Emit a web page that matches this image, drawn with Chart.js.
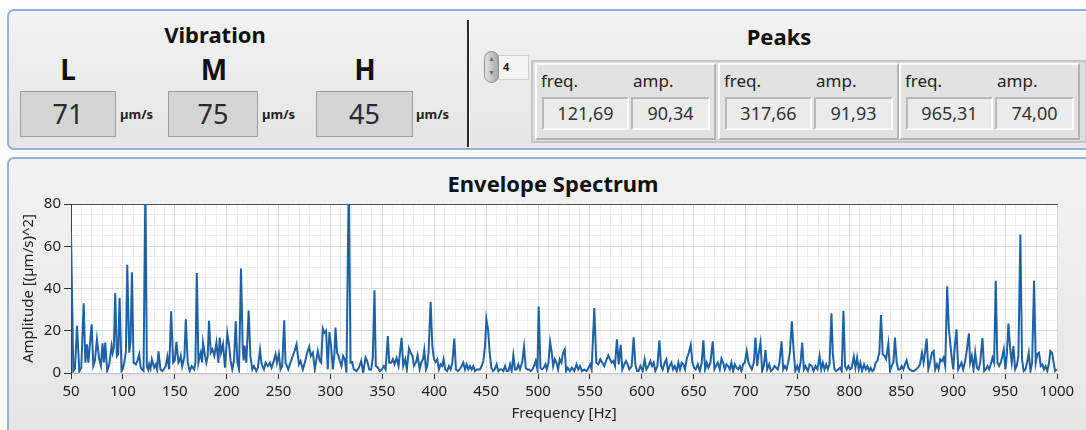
<!DOCTYPE html>
<html>
<head>
<meta charset="utf-8">
<script src="https://cdn.jsdelivr.net/npm/chart.js@4.4.0/dist/chart.umd.min.js"></script>
<style>
body{margin:0;width:1086px;height:430px;overflow:hidden;background:#fafafa;font-family:"Noto Sans",sans-serif;position:relative}
.panel{position:absolute;border:2px solid #8fb3d8;border-radius:7px;background:linear-gradient(#f2f2f2,#e5e5e5);box-sizing:border-box}
.t{position:absolute;white-space:nowrap;text-align:center;color:#222}
.hd{font-weight:bold;color:#111}
.box{position:absolute;box-sizing:border-box;background:#d4d4d4;border:1px solid #9c9c9c;text-align:center;color:#2a2a2a;font-size:27px;line-height:44px}
.unit{position:absolute;font-size:13px;font-weight:bold;color:#222;line-height:16px}
.arr{position:absolute;box-sizing:border-box;background:#dedede;border:2px solid #c6c6c6}
.el{position:absolute;box-sizing:border-box;background:#e2e2e2;border:2px solid;border-color:#fbfbfb #b2b2b2 #b2b2b2 #fbfbfb}
.lbl{position:absolute;font-size:17px;color:#222;line-height:20px}
.val{position:absolute;box-sizing:border-box;background:#ebebeb;border:2px solid;border-color:#b8b8b8 #fbfbfb #fbfbfb #b8b8b8;text-align:center;font-size:18px;color:#333;line-height:29px}
</style>
</head>
<body>
<div class="panel" style="left:7px;top:9px;width:1100px;height:141px"></div>
<div class="panel" style="left:7px;top:157px;width:1100px;height:300px"></div>
<div style="position:absolute;left:467px;top:20px;width:2px;height:127px;background:#2b2b2b;border-right:1px solid #fff"></div>
<div id="top"></div>
<div class="t hd" style="left:353px;top:169px;width:400px;font-size:22px;line-height:28px">Envelope Spectrum</div>
<canvas id="spec" width="1086" height="238" style="position:absolute;left:0;top:192px"></canvas>
<script>
function byId(id){return document.getElementById(id);}
function put(cls, css, text){
  const d = document.createElement("div");
  d.className = cls; d.style.cssText = css;
  if (text != null) d.textContent = text;
  byId("top").appendChild(d); return d;
}

// readings shown on the panel
const VIB_LABELS = ["L", "M", "H"];
const VIB_VALUES = [71, 75, 45];
const VIB_UNIT = "µm/s";
const PEAK_FREQ = ["121,69", "317,66", "965,31"];
const PEAK_AMP = ["90,34", "91,93", "74,00"];
const PEAK_COUNT = 4;

// axis ranges and ticks
const X_RANGE = [50, 1000];
const Y_RANGE = [0, 80];
const X_STEP = 50, Y_STEP = 20, X_MINOR = 10, Y_MINOR = 5;

// envelope spectrum (Hz / (µm/s)^2)
const FREQ_HZ = [
  50.0,52.2,53.8,55.8,58.0,59.9,62.2,63.8,65.4,66.7,69.9,71.5,73.1,75.0,77.2,78.8,80.4,81.7,83.0,84.9,
  86.9,89.1,90.1,91.3,92.6,94.2,95.5,96.8,98.7,100.0,101.3,102.9,104.2,106.1,107.4,108.7,110.3,112.5,114.1,115.7,
  117.0,118.3,119.9,121.69,123.1,124.4,125.3,126.6,127.9,130.1,131.7,133.0,134.3,136.2,138.1,139.7,141.3,142.9,144.6,146.5,
  148.4,150.0,151.6,153.5,154.8,155.8,157.1,158.0,159.3,160.6,162.5,164.4,166.3,168.6,169.9,171.2,172.8,173.7,175.0,176.3,
  177.2,179.2,180.4,181.7,183.0,184.6,186.2,188.1,190.1,192.0,193.3,194.6,196.5,198.4,200.6,202.2,203.8,205.4,207.1,208.7,
  210.3,211.9,213.8,215.4,216.3,217.3,218.9,221.2,222.8,224.7,226.3,228.5,230.1,232.1,233.7,235.9,237.5,239.7,241.7,243.3,
  244.9,247.1,248.4,250.3,251.9,253.5,255.4,256.7,259.3,261.5,263.1,265.4,267.3,269.6,271.2,273.4,275.3,277.2,279.5,281.1,
  283.0,284.9,287.8,289.7,291.0,292.6,294.2,295.8,297.4,299.0,300.6,302.3,303.9,304.8,306.4,307.7,309.0,310.6,312.2,313.8,
  315.4,317.66,319.3,320.9,322.5,325.1,327.3,329.6,331.5,333.8,335.4,337.3,339.2,340.8,342.4,343.7,345.7,347.6,349.5,351.4,
  353.1,355.3,356.6,358.5,360.1,361.7,363.7,365.6,368.5,370.1,372.0,373.6,375.6,377.2,379.1,380.4,382.3,383.9,385.9,387.5,
  389.1,390.4,392.0,393.2,394.5,396.5,398.1,399.7,401.3,402.9,404.5,406.1,407.7,409.0,410.6,412.5,414.1,415.8,417.4,419.3,
  420.9,422.8,424.4,426.4,428.0,429.6,431.2,432.8,434.4,436.0,437.6,439.2,440.8,442.4,444.1,445.7,447.3,448.9,450.2,451.8,
  453.4,455.0,456.6,458.2,460.1,461.7,463.3,465.0,466.6,468.2,469.8,471.4,473.0,474.6,476.2,477.8,479.4,481.0,482.6,484.6,
  486.5,488.1,489.7,491.3,492.9,494.5,496.1,497.7,499.4,500.6,502.3,503.9,505.5,507.1,508.4,510.0,511.6,513.2,514.5,516.1,
  517.7,519.3,520.9,522.5,524.1,525.7,527.0,528.5,530.7,532.6,534.9,537.1,538.7,540.4,542.3,544.5,546.8,548.7,550.3,551.6,
  554.2,556.1,558.0,560.0,561.9,563.8,566.1,567.7,569.3,570.9,572.5,574.1,576.0,577.7,579.6,581.2,583.1,584.7,586.3,587.9,
  590.2,592.1,593.7,595.3,596.9,598.6,600.8,602.7,604.3,606.3,608.2,609.8,611.4,613.0,615.0,616.9,618.5,620.1,622.0,623.6,
  625.2,626.8,628.5,630.1,631.7,633.6,635.2,636.8,638.4,640.0,641.6,643.2,645.2,647.1,648.7,650.3,651.9,653.9,655.8,657.7,
  659.3,660.9,662.5,664.1,666.1,668.3,669.9,671.5,673.2,675.1,676.7,678.3,679.9,681.5,683.1,684.7,686.3,687.9,689.5,691.2,
  692.8,694.4,696.0,697.6,699.2,701.1,702.7,704.3,705.9,707.9,709.5,711.1,712.7,714.3,715.9,717.5,719.1,720.8,722.7,724.3,
  726.2,727.8,729.4,731.0,732.6,734.6,736.2,737.8,739.4,741.0,742.6,744.5,746.2,747.8,749.7,751.3,752.9,754.5,756.1,757.7,
  760.0,761.6,763.8,765.4,767.3,769.2,771.2,772.8,774.4,776.0,777.6,779.2,780.8,782.7,784.0,785.6,787.2,789.1,791.0,792.6,
  794.2,795.8,797.4,799.0,800.6,802.2,804.2,805.8,807.4,809.0,810.6,812.2,814.1,815.7,817.3,818.9,820.5,822.1,823.7,825.3,
  826.9,828.8,830.4,832.1,833.7,835.3,837.5,839.1,840.7,842.3,843.9,845.5,847.1,848.7,850.3,851.9,853.5,855.1,856.7,858.3,
  860.3,862.2,864.1,866.0,868.0,869.9,871.5,872.8,874.4,876.0,877.6,879.5,881.1,882.7,884.3,885.9,887.5,889.1,890.7,892.3,
  894.2,895.8,897.1,898.4,900.0,901.6,903.2,904.8,906.4,908.0,909.6,911.2,912.8,915.1,916.3,917.9,919.6,921.2,922.8,924.4,
  926.0,928.2,929.8,931.4,933.0,934.6,936.2,937.8,939.4,941.0,942.6,944.2,945.8,947.4,948.7,950.3,951.6,953.2,954.8,956.4,
  958.0,959.6,961.2,962.8,964.7,966.3,967.9,969.6,971.2,972.8,974.4,976.0,977.9,979.5,981.1,982.7,984.3,985.9,987.5,989.1,
  990.7,992.3,993.6,995.2,996.8,998.1,1000.0
];
const AMP = [
  66.5,0.9,2.0,22.3,0.8,2.5,33.0,4.9,13.6,4.9,23.0,3.5,6.0,16.0,6.5,3.5,14.0,5.0,14.4,1.0,
  4.0,12.8,9.5,12.0,37.8,8.0,9.0,35.6,1.0,2.0,4.9,10.0,51.2,9.6,15.0,47.7,4.9,4.1,6.0,8.9,
  3.0,1.7,1.0,90.34,3.0,1.5,4.1,2.0,6.5,2.5,4.1,1.5,10.3,1.7,0.9,2.0,3.3,7.7,1.7,29.2,
  4.9,6.0,14.7,4.9,6.0,8.1,3.0,4.9,8.0,25.4,4.9,0.9,3.3,1.7,5.0,47.3,4.9,7.0,9.6,5.0,
  14.4,8.1,4.9,8.0,24.7,9.6,11.2,8.1,14.4,4.9,16.8,9.6,13.6,2.5,18.8,13.6,5.7,1.7,6.0,24.5,
  4.9,1.7,49.5,12.8,6.0,13.0,4.9,29.6,8.1,1.7,3.3,0.9,2.5,11.0,4.1,1.7,4.9,3.3,4.9,2.5,
  4.9,8.9,4.9,9.0,1.7,3.3,25.0,4.9,1.7,4.9,7.3,10.4,13.6,4.1,5.7,1.7,4.9,8.9,12.5,8.1,
  9.6,1.7,10.4,5.7,4.9,21.0,19.0,20.0,1.7,19.4,12.8,1.7,9.6,21.5,9.6,8.1,5.7,3.3,8.1,6.5,
  0.2,91.93,4.9,5.2,1.7,0.9,2.5,5.7,0.2,7.4,5.7,1.7,1.7,7.3,39.2,3.3,2.5,0.9,1.7,3.3,
  1.7,17.5,4.9,4.9,6.5,4.1,7.1,3.3,16.6,3.3,6.5,1.7,11.7,9.6,8.1,3.3,4.9,8.4,1.7,4.9,
  6.5,10.9,1.7,3.3,9.6,33.7,12.8,6.5,5.2,6.5,1.7,4.1,3.3,6.5,1.7,0.9,3.3,1.7,4.9,16.3,
  1.7,0.9,1.7,3.3,4.9,1.7,4.1,1.7,3.3,1.7,3.3,0.9,1.7,1.7,1.7,3.3,5.7,12.8,25.5,20.7,
  9.6,2.5,0.9,1.7,4.1,0.9,1.7,1.7,0.9,3.3,0.9,0.9,4.1,0.9,8.4,1.7,1.7,4.1,1.7,4.9,
  12.5,2.5,1.7,1.7,0.9,1.7,3.3,5.7,1.7,31.5,2.5,1.7,2.5,4.1,1.7,4.9,14.7,9.6,3.3,6.5,
  4.9,1.7,6.5,4.9,9.6,11.2,0.9,2.5,0.9,2.5,0.9,4.1,1.7,3.3,0.9,1.7,0.9,2.5,4.1,1.7,
  30.8,4.9,4.1,6.5,4.9,3.3,6.5,8.4,6.5,4.9,5.7,3.3,16.0,4.1,13.3,1.7,4.1,5.7,4.1,1.7,
  3.3,16.9,4.1,0.9,0.9,3.3,0.9,6.5,1.7,3.3,5.7,3.3,4.9,0.9,3.3,15.5,3.3,1.7,4.9,6.5,
  0.9,3.3,4.9,1.7,3.3,0.9,4.9,1.7,4.9,4.1,1.7,6.5,9.6,13.4,4.9,2.5,1.7,4.1,0.9,4.9,
  15.5,1.7,4.9,2.5,5.0,15.0,1.7,3.3,4.9,1.7,6.8,4.9,1.7,4.1,3.3,1.7,4.9,0.9,4.1,2.5,
  1.7,3.3,0.9,4.1,4.9,10.4,4.9,3.3,1.7,4.9,16.8,3.3,9.6,14.4,0.9,3.3,10.9,1.7,4.1,0.9,
  1.7,3.3,2.5,1.7,4.9,15.0,1.7,3.3,1.7,4.9,9.6,24.5,11.2,0.9,3.3,0.9,4.9,14.4,1.7,3.3,
  0.9,4.1,3.3,0.9,3.3,1.7,8.1,1.7,4.9,1.7,4.1,1.7,4.1,28.3,8.9,1.7,0.9,1.7,2.5,0.9,
  29.4,3.3,1.7,3.3,1.7,2.5,7.7,2.5,7.3,1.7,4.9,0.9,4.1,1.7,3.3,0.9,2.5,0.9,1.7,4.9,
  5.7,9.6,27.4,8.9,8.1,6.5,13.9,0.9,3.3,4.9,16.8,4.9,1.7,1.7,3.3,1.7,4.1,6.0,2.5,1.7,
  0.9,0.9,1.7,2.5,4.1,9.6,4.9,9.6,16.3,1.7,4.9,9.6,10.4,1.7,4.1,1.7,6.5,5.7,7.3,3.3,
  41.0,20.7,14.4,8.1,1.7,12.8,20.7,1.7,3.3,4.9,1.7,4.9,9.6,18.8,4.9,8.1,1.7,9.6,2.5,1.7,
  4.9,16.6,0.9,1.7,3.3,1.7,4.1,7.3,4.9,43.6,4.9,3.3,4.9,8.1,11.2,1.7,8.1,23.4,12.0,4.9,
  12.8,1.7,3.3,8.1,65.5,6.5,0.9,1.7,4.9,9.6,0.9,4.9,43.6,4.9,9.0,9.6,3.3,4.1,1.7,3.3,
  0.9,4.9,10.4,9.6,4.9,0.9,1.7
];

// --- upper panel -------------------------------------------------------------
put("t hd", "left:115px;top:20px;width:200px;font-size:22px;line-height:28px", "Vibration");
const boxL = [20, 168, 316], boxW = [96, 90, 97], letterX = [68, 214, 365], unitL = [120, 262, 416];
VIB_LABELS.forEach((l, i) => {
  put("t hd", `left:${letterX[i]-30}px;top:51px;width:60px;font-size:28px;line-height:36px`, l);
  put("box", `left:${boxL[i]}px;top:91px;width:${boxW[i]}px;height:46px`, String(VIB_VALUES[i]));
  put("unit", `left:${unitL[i]}px;top:106px`, VIB_UNIT);
});

put("t hd", "left:679px;top:22px;width:200px;font-size:22px;line-height:28px", "Peaks");
put("", "position:absolute;left:498px;top:55px;width:31px;height:25px;box-sizing:border-box;background:#f4f4f4;border:1px solid #cfcfcf");
put("", "position:absolute;left:484px;top:51px;width:15px;height:32px;box-sizing:border-box;border-radius:8px;border:1px solid #8c8c8c;background:linear-gradient(90deg,#e2e2e2,#a8a8a8);font-size:7px;line-height:14px;color:#6a6a6a;text-align:center", "▲\n▼").style.whiteSpace = "pre";
put("", "position:absolute;left:503px;top:60px;font-size:11px;font-weight:bold;color:#222;line-height:14px", String(PEAK_COUNT));
put("arr", "left:531px;top:60px;width:556px;height:83px");
const elL = [535, 718, 899];
PEAK_FREQ.forEach((f, i) => {
  const x = elL[i];
  put("el", `left:${x}px;top:63px;width:181px;height:77px`);
  put("lbl", `left:${x+6}px;top:71px`, "freq.");
  put("lbl", `left:${x+98}px;top:71px`, "amp.");
  put("val", `left:${x+7}px;top:97px;width:87px;height:33px`, f);
  put("val", `left:${x+96}px;top:97px;width:79px;height:33px`, PEAK_AMP[i]);
});

// --- spectrum chart ------------------------------------------------------------
Chart.defaults.font.family = "'Noto Sans', sans-serif";
const onMajor = (v, step) => Math.abs(v / step - Math.round(v / step)) < 1e-6;
const plotBg = { id: "plotBg", beforeDraw(chart){
  const { ctx, chartArea: a } = chart;
  ctx.save(); ctx.fillStyle = "#ffffff"; ctx.fillRect(a.left, a.top, a.right - a.left, a.bottom - a.top); ctx.restore();
}};
const tickFont = { size: 15 };

new Chart(byId("spec"), {
  type: "line",
  data: { datasets: [{
    data: FREQ_HZ.map((f, i) => ({ x: f, y: AMP[i] })),
    xAxisID: "x", yAxisID: "y",
    borderColor: "#1e62a5", borderWidth: 2, pointRadius: 0, tension: 0, fill: false
  }]},
  options: {
    responsive: false, animation: false,
    layout: { padding: { left: 0, top: 8, right: 29, bottom: 0 } },
    plugins: { legend: { display: false }, tooltip: { enabled: false } },
    scales: {
      xm: { axis: "x", type: "linear", position: "bottom", min: X_RANGE[0], max: X_RANGE[1],
        ticks: { display: false, stepSize: X_MINOR, autoSkip: false },
        grid: { z: -2, drawTicks: false, color: c => onMajor(c.tick.value, X_STEP) ? "rgba(0,0,0,0)" : "#eeeeee" },
        border: { display: false }, afterFit: s => { s.height = 0; } },
      ym: { axis: "y", type: "linear", position: "left", min: Y_RANGE[0], max: Y_RANGE[1],
        ticks: { display: false, stepSize: Y_MINOR },
        grid: { z: -2, drawTicks: false, color: c => onMajor(c.tick.value, Y_STEP) ? "rgba(0,0,0,0)" : "#eeeeee" },
        border: { display: false }, afterFit: s => { s.width = 0; } },
      xt: { axis: "x", type: "linear", position: "top", min: X_RANGE[0], max: X_RANGE[1],
        ticks: { display: false }, grid: { display: false, drawTicks: false },
        border: { color: "#505050", width: 1 }, afterFit: s => { s.height = 0; } },
      x: { type: "linear", position: "bottom", min: X_RANGE[0], max: X_RANGE[1],
        ticks: { stepSize: X_STEP, autoSkip: false, maxRotation: 0, minRotation: 0, color: "#222", font: tickFont, padding: 4,
          callback: v => String(v) },
        grid: { color: "#d9d9d9", tickColor: "#333", tickLength: 6 },
        border: { color: "#c4c4c4" },
        title: { display: true, text: "Frequency [Hz]", color: "#222", font: { size: 15 }, padding: { top: 0, bottom: 7 } },
        afterFit: s => { s.height = 57; } },
      y: { type: "linear", position: "left", min: Y_RANGE[0], max: Y_RANGE[1],
        ticks: { stepSize: Y_STEP, color: "#222", font: tickFont, padding: 3, callback: v => String(v) },
        grid: { color: "#d9d9d9", tickColor: "#333", tickLength: 7 },
        border: { color: "#404040" },
        title: { display: true, text: "Amplitude [(µm/s)^2]", color: "#222", font: { size: 15 }, padding: { top: 20, bottom: 0 } },
        afterFit: s => { s.width = 71; } }
    }
  },
  plugins: [plotBg]
});
</script>
</body>
</html>
